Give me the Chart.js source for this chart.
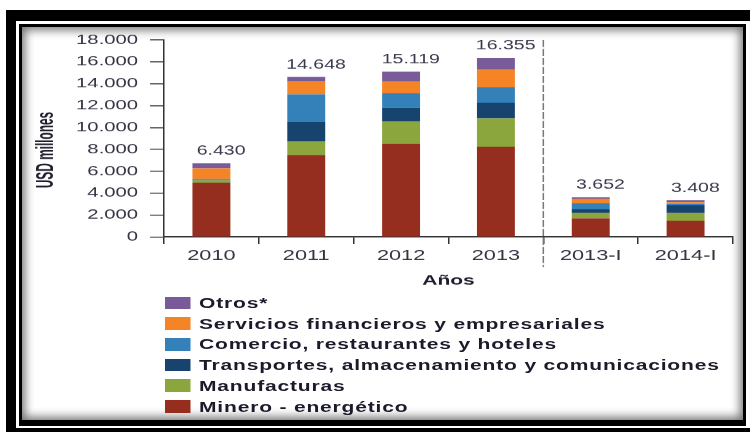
<!DOCTYPE html>
<html>
<head>
<meta charset="utf-8">
<script src="https://cdn.jsdelivr.net/npm/chart.js@4.4.0/dist/chart.umd.min.js"></script>
<style>
html, body { margin: 0; padding: 0; background: #fff; width: 750px; height: 432px; overflow: hidden; }
.frame { position: absolute; }
#outer { left: 6px; top: 10px; width: 760px; height: 440px; background: #000; }
#gap { left: 16px; top: 21px; width: 736px; height: 407px; background: #fff; }
#inner { left: 19px; top: 24px; width: 727px; height: 402px; background: #000; }
#panel { left: 22px; top: 27px; width: 721px; height: 393px; background: #fff;
         box-shadow: inset 0 0 10px 3px rgba(0,0,0,0.55); }
/* todo el grafico va estirado en horizontal, como la imagen original */
#stage { position: absolute; left: 0; top: 0; width: 500px; height: 432px;
         transform: scaleX(1.5); transform-origin: 0 0; }
#chartBox { position: absolute; left: 0; top: 0; width: 500px; height: 300px; }
.item { position: absolute; left: 110px; height: 16px; line-height: 16px; white-space: nowrap;
        font: bold 14px 'Liberation Sans', Arial, sans-serif; color: #1a1a2a; letter-spacing: 0.55px; }
.item .box { position: absolute; left: 0; top: 1.6px; width: 16.7px; height: 12.7px; }
.item .txt { position: absolute; left: 22.7px; top: 0; }
</style>
</head>
<body>
<div id="outer" class="frame"></div>
<div id="gap" class="frame"></div>
<div id="inner" class="frame"></div>
<div id="panel" class="frame"></div>
<div id="stage">
  <div id="chartBox"><canvas id="myChart"></canvas></div>
  <div id="legend"></div>
</div>
<script>
var categorias = ['2010', '2011', '2012', '2013', '2013-I', '2014-I'];
var totales = ['6.430', '14.648', '15.119', '16.355', '3.652', '3.408'];

// valores (USD millones)
var minero       = [4960, 7490, 8530, 8250, 1710, 1490];
var manufacturas = [220, 1220, 2010, 2590, 510, 700];
var transportes  = [50, 1800, 1280, 1430, 310, 700];
var comercio     = [70, 2530, 1310, 1400, 550, 120];
var servicios    = [980, 1160, 1100, 1650, 420, 180];
var otros        = [450, 430, 880, 1030, 130, 170];

var nombres = ['Minero - energético', 'Manufacturas', 'Transportes, almacenamiento y comunicaciones',
               'Comercio, restaurantes y hoteles', 'Servicios financieros y empresariales', 'Otros*'];
var series = [minero, manufacturas, transportes, comercio, servicios, otros];
var colores = ['#952e1e', '#8ba63c', '#17436f', '#3481ba', '#f58426', '#7a5b9a'];

function fmt(v) {
    return String(v).replace(/\B(?=(\d{3})+(?!\d))/g, '.');
}

Chart.defaults.font.family = "'Liberation Sans', Arial, sans-serif";

// totales encima de cada barra
var etiquetasPlugin = {
    id: 'etiquetas',
    afterDatasetsDraw: function (chart) {
        var ctx = chart.ctx, x = chart.scales.x, y = chart.scales.y;
        ctx.save();
        ctx.font = "13px 'Liberation Sans', Arial, sans-serif";
        ctx.fillStyle = '#3a3a4c';
        ctx.textAlign = 'center';
        ctx.textBaseline = 'middle';
        categorias.forEach(function (c, i) {
            var suma = 0;
            chart.data.datasets.forEach(function (d) { suma += d.data[i]; });
            ctx.fillText(totales[i], x.getPixelForValue(i) + 6.5, y.getPixelForValue(suma) - 12);
        });
        ctx.restore();
    }
};

// linea punteada entre años y trimestres + titulo del eje y
var extrasPlugin = {
    id: 'extras',
    afterDraw: function (chart) {
        var ctx = chart.ctx, x = chart.scales.x, area = chart.chartArea;
        var k = categorias.indexOf('2013-I');
        var xs = (x.getPixelForValue(k - 1) + x.getPixelForValue(k)) / 2;
        ctx.save();
        ctx.strokeStyle = '#777';
        ctx.lineWidth = 1;
        ctx.setLineDash([7, 2]);
        ctx.beginPath();
        ctx.moveTo(xs, area.top);
        ctx.lineTo(xs, area.bottom + 30);
        ctx.stroke();
        ctx.restore();

        // titulo angosto (tipo Arial Narrow)
        ctx.save();
        ctx.translate(31, 150);
        ctx.rotate(-Math.PI / 2);
        ctx.scale(0.74, 1);
        ctx.font = "bold 16px 'Liberation Sans', Arial, sans-serif";
        ctx.fillStyle = '#1e1e2c';
        ctx.textAlign = 'center';
        ctx.textBaseline = 'middle';
        ctx.fillText('USD millones', 0, 0);
        ctx.restore();
    }
};

var ctx = document.getElementById('myChart').getContext('2d');
var myChart = new Chart(ctx, {
    type: 'bar',
    data: {
        labels: categorias,
        datasets: series.map(function (s, i) {
            return {
                label: nombres[i],
                data: s,
                backgroundColor: colores[i],
                borderWidth: 0,
                barPercentage: 0.4,
                categoryPercentage: 1
            };
        })
    },
    options: {
        responsive: true,
        maintainAspectRatio: false,
        animation: false,
        devicePixelRatio: 1.5,
        layout: { padding: { left: 0, right: 11.33, top: 40, bottom: 0 } },
        plugins: {
            legend: { display: false },
            tooltip: { enabled: false }
        },
        scales: {
            x: {
                stacked: true,
                grid: { drawOnChartArea: false, offset: true, tickLength: 7, color: '#333', lineWidth: 1 },
                border: { display: true, color: '#333', width: 1.5 },
                ticks: { color: '#333342', font: { size: 14.5 }, padding: 3 },
                title: {
                    display: true, text: 'Años', color: '#1d1d2e',
                    font: { size: 14, weight: 'bold' },
                    padding: { top: 0, bottom: 10.6 }
                },
                afterFit: function (s) { s.height = 63; }
            },
            y: {
                stacked: true,
                min: 0,
                max: 18000,
                ticks: {
                    stepSize: 2000, color: '#333342', font: { size: 13.5 }, padding: 8,
                    callback: function (v) { return fmt(v); }
                },
                grid: { drawOnChartArea: false, tickLength: 9.3, color: '#333' },
                border: { display: true, color: '#333', width: 1 },
                afterFit: function (s) { s.width = 109.33; }
            }
        }
    },
    plugins: [etiquetasPlugin, extrasPlugin]
});

// leyenda en html, de arriba (Otros*) hacia abajo
var legend = document.getElementById('legend');
myChart.data.datasets.slice().reverse().forEach(function (d, i) {
    var item = document.createElement('div');
    item.className = 'item';
    item.style.top = (303 + i * 20.7 - 8) + 'px';
    item.innerHTML = '<span class="box" style="background:' + d.backgroundColor + '"></span>' +
                     '<span class="txt">' + d.label + '</span>';
    legend.appendChild(item);
});
</script>
</body>
</html>
